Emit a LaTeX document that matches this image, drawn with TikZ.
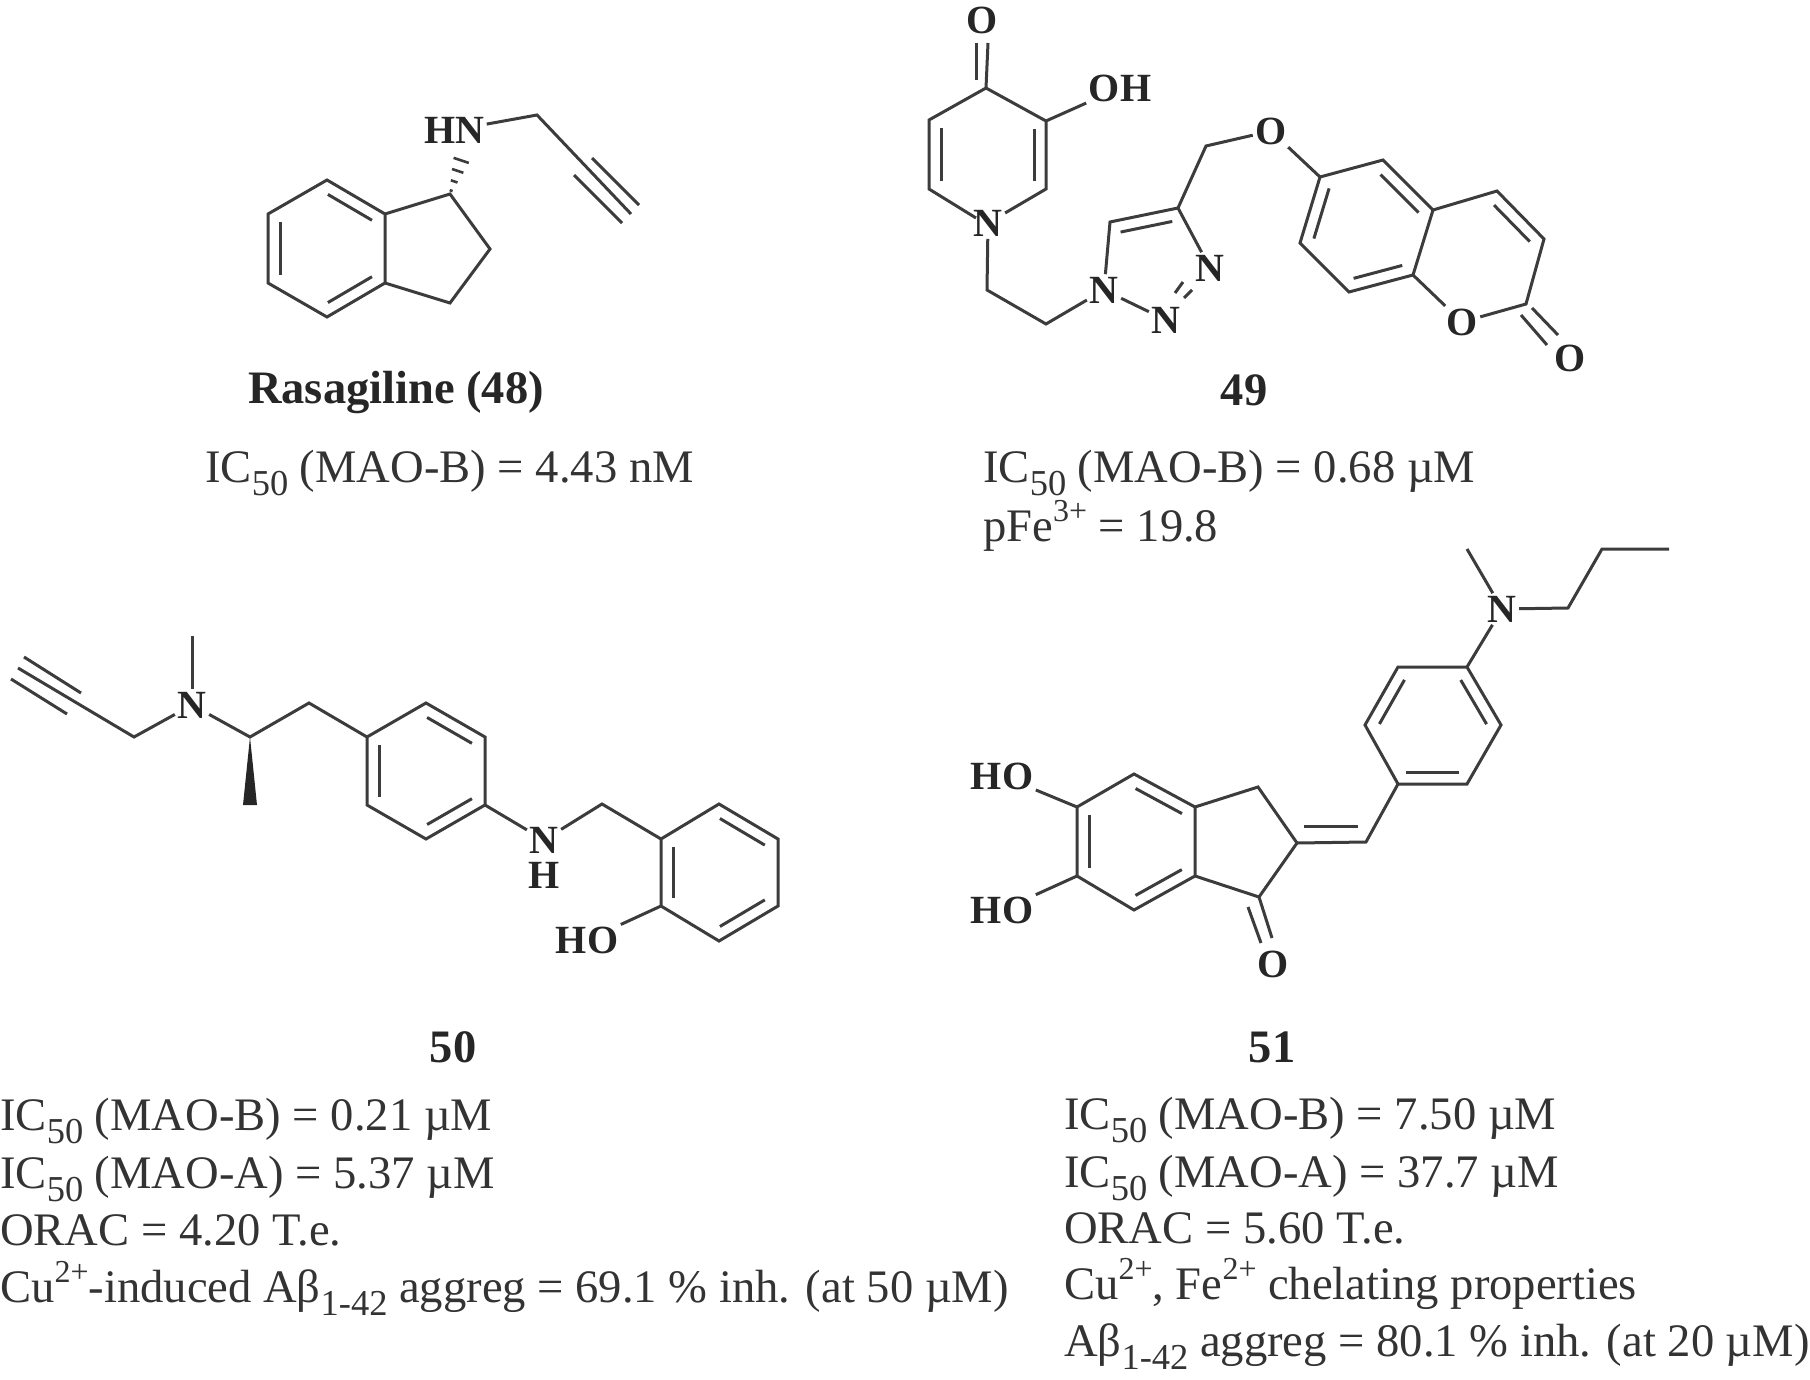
\documentclass[tikz,border=0pt]{standalone}
\usepackage{fontspec}
\setmainfont{Liberation Serif}
\usetikzlibrary{calc}
\definecolor{bondc}{HTML}{3C3C3C}
\definecolor{textc}{HTML}{333333}
\newcommand{\sbs}[1]{\raisebox{-0.28em}{\fontsize{36.5}{36.5}\selectfont #1}}
\newcommand{\sps}[1]{\raisebox{0.42em}{\fontsize{32}{32}\selectfont #1}}
\newcommand{\ringin}[2]{\draw[bond] ($(#1)!.12!(#2)!12pt!-90:(#2)$) -- ($(#2)!.12!(#1)!12pt!90:(#1)$);}
\tikzset{
  x=1pt,y=-1pt,
  bond/.style={draw=bondc,line width=3pt,line join=miter,line cap=butt},
  atom/.style={inner sep=2.5pt,text=black!85,font=\fontsize{40}{40}\selectfont\bfseries},
  ttl/.style={inner sep=0pt,text=black!85,font=\fontsize{46.5}{50}\selectfont\bfseries},
  val/.style={anchor=base west,inner sep=0pt,text=textc,font=\fontsize{46.6}{50}\selectfont}
}
\begin{document}
\begin{tikzpicture}
\useasboundingbox (0,0) rectangle (1810,1380);
% ---------- 48
\foreach \n/\p in {a1/{327,180},a2/{385,214},a3/{385,283},a4/{327,317},a5/{268,283},a6/{268,214},a7/{450,194},a8/{490,249},a9/{450,303},a10/{537,115},a11/{631,214},t1/{592,158},t2/{639,205},t3/{574,175},t4/{622,223},hnb/{464,152}}
  {\coordinate (\n) at (\p);}
\node[atom] (hn) at (454,130) {HN};
\draw[bond] (a1)--(a2)--(a3)--(a4)--(a5)--(a6)--cycle;
\ringin{a1}{a2}\ringin{a3}{a4}\ringin{a5}{a6}
\draw[bond] (a2)--(a7)--(a8)--(a9)--(a3);
\draw[bond] (hn)--(a10)--(a11);
\draw[bond] (t1)--(t2);
\draw[bond] (t3)--(t4);
\foreach \t/\w in {.08/1.5,.3/3.5,.55/6,.8/8}
  \draw[bondc,line width=2.6pt] ($(a7)!\t!(hnb)!\w pt!90:(hnb)$) -- ($(a7)!\t!(hnb)!\w pt!-90:(hnb)$);
\node[ttl] (n48) at (396,392) {Rasagiline (48)};
\node[val] (v48) at (205,482) {IC\sbs{50} (MAO-B) = 4.43 nM};
% ---------- 49
\foreach \n/\p in {b1/{986,88},b2/{1046,121},b3/{1046,189},b5/{929,189},b6/{929,120},bn/{976,218},d1/{976,43},d2/{976,80},d3/{988,43},
  c1/{987,290},c2/{1046,324},e5/{1110,222},e4/{1178,208},f1/{1206,146},
  g1/{1320,177},g2/{1383,160},g3/{1433,210},g4/{1413,275},g5/{1349,292},g6/{1300,243},
  h1/{1497,191},h2/{1544,239},h3/{1526,304},
  i1/{1521,315},i2/{1547,345},i3/{1532,308},i4/{1558,335},
  j1/{1183,282},j2/{1175,293},j3/{1192,290},j4/{1184,298}}
  {\coordinate (\n) at (\p);}
\node[atom] (oa) at (982,20) {O};
\node[atom] (oh) at (1120,88) {OH};
\node[atom] (nb) at (988,223) {N};
\node[atom] (n1) at (1104,290) {N};
\node[atom] (n3) at (1210,268) {N};
\node[atom] (n2) at (1166,320) {N};
\node[atom] (ob) at (1271,131) {O};
\node[atom] (oc) at (1462,322) {O};
\node[atom] (od) at (1570,358) {O};
\draw[bond] (d1)--(d2);
\draw[bond] (d3)--(b1)--(b2)--(b3)--(nb);
\draw[bond] (b1)--(b6)--(b5)--(bn);
\ringin{b2}{b3}\ringin{b5}{b6}
\draw[bond] (b2)--(oh);
\draw[bond] (nb)--(c1)--(c2)--(n1);
\draw[bond] (n1)--(e5)--(e4)--(n3);
\ringin{e5}{e4}
\draw[bond] (n1)--(n2);
\draw[bond] (j1)--(j2);
\draw[bond] (j3)--(j4);
\draw[bond] (e4)--(f1)--(ob);
\draw[bond] (ob)--(g1);
\draw[bond] (g1)--(g2)--(g3)--(g4)--(g5)--(g6)--cycle;
\ringin{g2}{g3}\ringin{g4}{g5}\ringin{g6}{g1}
\draw[bond] (g3)--(h1)--(h2)--(h3)--(oc)--(g4);
\ringin{h1}{h2}
\draw[bond] (i1)--(i2);
\draw[bond] (i3)--(i4);
\node[ttl] (n49) at (1244,390) {49};
\node[val] (v49a) at (983,482) {IC\sbs{50} (MAO-B) = 0.68 µM};
\node[val] (v49b) at (983,541) {pFe\sps{3+} = 19.8};
% ---------- 50
\foreach \n/\p in {k1/{18,668},k2/{134,737},k3/{24,657},k4/{81,693},k5/{11,679},k6/{67,714},k7/{192,636},
  l1/{250,737},l2/{309,703},m1/{367,737},m2/{426,703},m3/{485,737},m4/{485,805},m5/{426,839},m6/{367,805},
  p1/{602,804},q1/{661,839},q2/{719,804},q3/{778,839},q4/{778,906},q5/{719,941},q6/{661,906},we/{250,805}}
  {\coordinate (\n) at (\p);}
\node[atom] (na) at (192,705) {N};
\node[atom] (nh) at (544,840) {N};
\node[atom,inner sep=0pt] (hh) at (544,875) {H};
\node[atom] (hoa) at (587,940) {HO};
\draw[bond] (k3)--(k4);
\draw[bond] (k5)--(k6);
\draw[bond] (k1)--(k2)--(na);
\draw[bond] (k7)--(na);
\draw[bond] (na)--(l1)--(l2)--(m1);
\fill[black!85] (l1) -- ($(we)+(-7,0)$) -- ($(we)+(7,0)$) -- cycle;
\draw[bond] (m1)--(m2)--(m3)--(m4)--(m5)--(m6)--cycle;
\ringin{m2}{m3}\ringin{m4}{m5}\ringin{m6}{m1}
\draw[bond] (m4)--(nh);
\draw[bond] (nh)--(p1)--(q1);
\draw[bond] (q1)--(q2)--(q3)--(q4)--(q5)--(q6)--cycle;
\ringin{q2}{q3}\ringin{q4}{q5}\ringin{q6}{q1}
\draw[bond] (q6)--(hoa);
\node[ttl] (n50) at (453,1047) {50};
\node[val] (v50a) at (0,1130) {IC\sbs{50} (MAO-B) = 0.21 µM};
\node[val] (v50b) at (0,1188) {IC\sbs{50} (MAO-A) = 5.37 µM};
\node[val] (v50c) at (0,1245) {ORAC = 4.20 T.e.};
\node[val] (v50d) at (0,1302) {Cu\sps{2+}-induced Aβ\sbs{1-42} aggreg = 69.1 \% inh. (at 50 µM)};
% ---------- 51
\foreach \n/\p in {r1/{1467,549},r2/{1568,608},r3/{1602,549},r4/{1669,549},
  s1/{1467,667},s2/{1398,667},s3/{1365,725},s4/{1398,784},s5/{1467,784},s6/{1501,725},
  u1/{1366,842},u2/{1297,843},u3/{1258,787},u4/{1195,807},u5/{1195,876},u6/{1259,897},
  w1/{1134,774},w2/{1077,807},w3/{1077,876},w4/{1134,910},
  y1/{1248,907},y2/{1261,943},y3/{1272,938},v1/{1304,826},v2/{1358,826}}
  {\coordinate (\n) at (\p);}
\node[atom] (nc) at (1502,609) {N};
\node[atom] (hob) at (1002,776) {HO};
\node[atom] (hoc) at (1002,910) {HO};
\node[atom] (oe) at (1273,964) {O};
\draw[bond] (r1)--(nc);
\draw[bond] (nc)--(r2)--(r3)--(r4);
\draw[bond] (nc)--(s1);
\draw[bond] (s1)--(s2)--(s3)--(s4)--(s5)--(s6)--cycle;
\ringin{s1}{s6}\ringin{s3}{s2}\ringin{s5}{s4}
\draw[bond] (s4)--(u1)--(u2)--(u3)--(u4);
\draw[bond] (v1)--(v2);
\draw[bond] (u2)--(u6)--(u5);
\draw[bond] (u4)--(w1)--(w2)--(w3)--(w4)--(u5)--cycle;
\ringin{w1}{u4}\ringin{w3}{w2}\ringin{u5}{w4}
\draw[bond] (w2)--(hob);
\draw[bond] (w3)--(hoc);
\draw[bond] (y1)--(y2);
\draw[bond] (u6)--(y3);
\node[ttl] (n51) at (1272,1047) {51};
\node[val] (v51a) at (1064,1129) {IC\sbs{50} (MAO-B) = 7.50 µM};
\node[val] (v51b) at (1064,1187) {IC\sbs{50} (MAO-A) = 37.7 µM};
\node[val] (v51c) at (1064,1243) {ORAC = 5.60 T.e.};
\node[val] (v51d) at (1064,1299) {Cu\sps{2+}, Fe\sps{2+} chelating properties};
\node[val] (v51e) at (1064,1356) {Aβ\sbs{1-42} aggreg = 80.1 \% inh. (at 20 µM)};
\end{tikzpicture}
\end{document}
